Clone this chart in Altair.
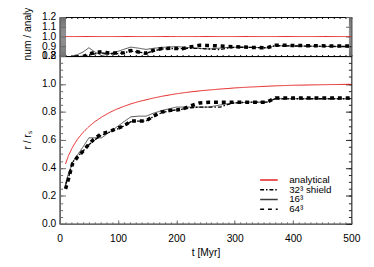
import altair as alt
import pandas as pd

# ---------------- data ----------------
t_myr = [10, 15, 22, 30, 40, 50, 60, 72, 85, 97, 110, 122, 135, 148, 160, 175, 190, 200, 210, 225,
         240, 256, 275, 289, 300, 325, 355, 370, 400, 450, 500]
r_analytical = [0.429, 0.487, 0.548, 0.602, 0.654, 0.695, 0.730, 0.764, 0.795, 0.819,
                0.840, 0.858, 0.874, 0.887, 0.899, 0.912, 0.923, 0.930, 0.936, 0.944,
                0.951, 0.957, 0.964, 0.968, 0.972, 0.978, 0.984, 0.987, 0.991, 0.995, 0.998]
r_32_shield = [0.28, 0.33, 0.44, 0.48, 0.52, 0.565, 0.60, 0.635, 0.655, 0.675,
               0.70, 0.73, 0.735, 0.735, 0.765, 0.795, 0.81, 0.815, 0.82, 0.83,
               0.835, 0.835, 0.835, 0.855, 0.865, 0.87, 0.87, 0.895, 0.895, 0.895, 0.895]
r_16 = [0.29, 0.36, 0.44, 0.49, 0.55, 0.615, 0.615, 0.615, 0.655, 0.69,
        0.73, 0.765, 0.77, 0.77, 0.79, 0.81, 0.825, 0.835, 0.835, 0.835,
        0.835, 0.835, 0.85, 0.86, 0.865, 0.87, 0.87, 0.895, 0.895, 0.895, 0.895]
r_64 = [0.25, 0.32, 0.43, 0.475, 0.52, 0.57, 0.61, 0.645, 0.66, 0.68,
        0.70, 0.735, 0.735, 0.735, 0.77, 0.80, 0.812, 0.815, 0.82, 0.845,
        0.865, 0.87, 0.87, 0.87, 0.87, 0.87, 0.87, 0.90, 0.90, 0.90, 0.90]

series_names = ["analytical", "32³ shield", "16³", "64³"]      # legend order
draw_order = ["analytical", "16³", "32³ shield", "64³"]         # paint order
series_values = {"analytical": r_analytical, "32³ shield": r_32_shield,
                 "16³": r_16, "64³": r_64}

x_major = [0, 100, 200, 300, 400, 500]
x_minor = [10 * i for i in range(51)]
y_major = [0.0, 0.2, 0.4, 0.6, 0.8, 1.0, 1.2]
y_minor = [round(0.05 * i, 2) for i in range(25)]
ratio_major = [0.8, 0.9, 1.0, 1.1, 1.2]
ratio_minor = [round(0.8 + 0.01 * i, 2) for i in range(41)]

# ---------------- styles ----------------
series_colors = ["#e41f1f", "#000000", "#3a3a3a", "#000000"]
series_dash = [[1, 0], [4, 2, 1.5, 2], [1, 0], [4, 4]]
series_widths = [1.0, 1.4, 0.9, 3.6]

FONT = "Liberation Sans"
GRAY = "#6a6a6a"
W = 299
H_MAIN = 172
H_TOP = 40

rows = []
for name in draw_order:
    for t, v, a in zip(t_myr, series_values[name], r_analytical):
        rows.append({"t": t, "r": v, "ratio": v / a, "series": name})
df = pd.DataFrame(rows)
anchor = pd.DataFrame({"t": [0], "r": [0.5], "ratio": [1.0]})

x_scale = alt.Scale(domain=[0, 500], nice=False, zero=False)
y_main_scale = alt.Scale(domain=[0, 1.2], nice=False, zero=False)
y_top_scale = alt.Scale(domain=[0.8, 1.2], nice=False, zero=False)

width_cond = {
    "condition": [{"test": f"datum.series === '{n}'", "value": w}
                  for n, w in zip(series_names, series_widths)],
    "value": 1,
}

legend = alt.Legend(
    orient="none", legendX=209.5, legendY=162, padding=0, rowPadding=0,
    labelFont=FONT, labelFontSize=10, labelColor="#000", labelOffset=15.7,
    symbolType="M-2.57,0H2.57", symbolSize=49, symbolStrokeWidth=1.5,
)

color_enc = alt.Color("series:N", title=None,
                      scale=alt.Scale(domain=series_names, range=series_colors), legend=legend)
dash_enc = alt.StrokeDash("series:N", title=None,
                          scale=alt.Scale(domain=series_names, range=series_dash), legend=legend)


def ax(orient, offset, values, size, color):
    return alt.Axis(orient=orient, offset=offset, values=values, tickSize=size,
                    tickColor=color, tickWidth=1, labels=False, domain=False, grid=False)


def tick_layer(ycol, yscale, xaxis, yaxis):
    return alt.Chart(anchor).mark_point(opacity=0).encode(
        x=alt.X("t:Q", scale=x_scale, title=None, axis=xaxis),
        y=alt.Y(f"{ycol}:Q", scale=yscale, title=None, axis=yaxis),
    )


# ---------------- main panel ----------------
main_lines = alt.Chart(df).mark_line(clip=True, strokeCap="butt").encode(
    x=alt.X("t:Q", scale=x_scale, title="t  [Myr]",
            axis=alt.Axis(orient="bottom", values=x_major, format="d", labelFlush=False,
                          ticks=False, tickSize=0, domainColor=GRAY, domainWidth=1.5,
                          labelPadding=10, titlePadding=4)),
    y=alt.Y("r:Q", scale=y_main_scale, title="r / rₛ",
            axis=alt.Axis(orient="left", values=y_major, format=".1f", ticks=False, tickSize=0,
                          domainColor=GRAY, domainWidth=1.5, labelPadding=4, titlePadding=9)),
    color=color_enc,
    strokeDash=dash_enc,
    strokeWidth=width_cond,
)

main = alt.layer(
    main_lines,
    tick_layer("r", y_main_scale, ax("top", -H_MAIN, x_major, 4, GRAY), ax("right", -W, y_major, 6, GRAY)),
    tick_layer("r", y_main_scale, ax("top", -H_MAIN, x_minor, 2, GRAY), ax("right", -W, y_minor, 3, GRAY)),
    tick_layer("r", y_main_scale, None, ax("left", -W, y_major, 6, "#222")),
    tick_layer("r", y_main_scale, None, ax("left", -W, y_minor, 3, "#222")),
).resolve_axis(x="independent", y="independent").properties(width=W, height=H_MAIN)

# ---------------- ratio panel ----------------
top_lines = alt.Chart(df).mark_line(clip=True, strokeCap="butt").encode(
    x=alt.X("t:Q", scale=x_scale, title=None,
            axis=alt.Axis(orient="bottom", labels=False, ticks=False, tickSize=0,
                          domainColor="#000", domainWidth=1)),
    y=alt.Y("ratio:Q", scale=y_top_scale, title="num / analyt",
            axis=alt.Axis(orient="left", values=ratio_major, format=".1f", ticks=False,
                          tickSize=0, labelOverlap=False, domainColor=GRAY, domainWidth=1.5,
                          labelPadding=4, titleX=-28, titleY=44, titleAlign="left")),
    color=color_enc,
    strokeDash=dash_enc,
    strokeWidth=width_cond,
)

top = alt.layer(
    top_lines,
    tick_layer("ratio", y_top_scale, ax("top", -H_TOP, x_minor, 1.5, "#000"), ax("right", -W, ratio_major, 6, GRAY)),
    tick_layer("ratio", y_top_scale, ax("bottom", -H_TOP, x_minor, 1.5, "#000"), ax("right", -W, ratio_minor, 6, GRAY)),
    tick_layer("ratio", y_top_scale, None, ax("left", -W, ratio_major, 6, GRAY)),
    tick_layer("ratio", y_top_scale, None, ax("left", -W, ratio_minor, 3, GRAY)),
).resolve_axis(x="independent", y="independent").properties(width=W, height=H_TOP)

chart = alt.vconcat(top, main, spacing=0, bounds="flush").properties(
    padding={"left": 14, "top": -8, "right": 5, "bottom": 5}
).configure(font=FONT).configure_axis(
    labelFont=FONT, titleFont=FONT, labelFontSize=10.5, titleFontSize=10.5,
    titleFontWeight="normal", labelColor="#000", titleColor="#000", grid=False,
).configure_view(stroke="#000", strokeWidth=1)

chart.save("out.html", embed_options={"renderer": "svg", "actions": False})
